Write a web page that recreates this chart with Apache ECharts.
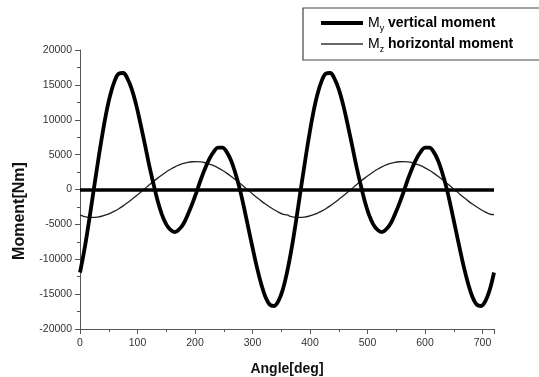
<!DOCTYPE html>
<html>
<head>
<meta charset="utf-8">
<script src="https://cdn.jsdelivr.net/npm/echarts@6/dist/echarts.min.js"></script>
<style>
html,body{margin:0;padding:0;background:#fff;}
#chart{width:539px;height:377px;}
</style>
</head>
<body>
<div id="chart"></div>
<script>
// Angle positions (deg)
var angles = [0,7.5,15,22.5,30,37.5,45,52.5,60,67.5,75,82.5,90,97.5,105,112.5,120,127.5,135,142.5,150,157.5,165,172.5,
              180,187.5,195,202.5,210,217.5,225,232.5,240,247.5,255,262.5,270,277.5,285,292.5,300,307.5,315,322.5,330,337.5,345,352.5,
              360,367.5,375,382.5,390,397.5,405,412.5,420,427.5,435,442.5,450,457.5,465,472.5,480,487.5,495,502.5,510,517.5,525,532.5,
              540,547.5,555,562.5,570,577.5,585,592.5,600,607.5,615,622.5,630,637.5,645,652.5,660,667.5,675,682.5,690,697.5,705,712.5,720];
// My vertical moment (Nm)
var myValues = [-11900,-8700,-4900,-800,3300,7200,10700,13500,15500,16600,16700,15900,14400,12200,9500,6600,3600,900,-1600,-3600,-5000,-5800,-6100,-5700,
                -4900,-3600,-2100,-400,1400,3000,4400,5400,6000,6000,5400,4200,2400,200,-2500,-5400,-8300,-11100,-13500,-15400,-16500,-16700,-16000,-14400,
                -11900,-8700,-4900,-800,3300,7200,10700,13500,15500,16600,16700,15900,14400,12200,9500,6600,3600,900,-1600,-3600,-5000,-5800,-6100,-5700,
                -4900,-3600,-2100,-400,1400,3000,4400,5400,6000,6000,5400,4200,2400,200,-2500,-5400,-8300,-11100,-13500,-15400,-16500,-16700,-16000,-14400,-11900];
// Mz horizontal moment (Nm)
var mzValues = [-3650,-3890,-4000,-4000,-3950,-3835,-3650,-3410,-3100,-2750,-2350,-1910,-1430,-930,-420,100,630,1140,1630,2090,2520,2900,3240,3520,
                3730,3890,3980,4000,3950,3835,3650,3410,3110,2750,2350,1910,1430,930,420,-100,-630,-1140,-1630,-2090,-2520,-2900,-3240,-3520,
                -3650,-3890,-4000,-4000,-3950,-3835,-3650,-3410,-3100,-2750,-2350,-1910,-1430,-930,-420,100,630,1140,1630,2090,2520,2900,3240,3520,
                3730,3890,3980,4000,3950,3835,3650,3410,3110,2750,2350,1910,1430,930,420,-100,-630,-1140,-1630,-2090,-2520,-2900,-3240,-3520,-3600];
var zeroLevel = 0;
var seriesNames = ['My vertical moment', 'Mz horizontal moment'];
var xMin = 0, xMax = 720, xInterval = 100;
var yMin = -20000, yMax = 20000, yInterval = 5000;

function pairs(xs, ys){ return xs.map(function(x,i){ return [x, ys[i]]; }); }

var chart = echarts.init(document.getElementById('chart'), null, {renderer:'canvas'});
var FONT = 'Arial, "Liberation Sans", Helvetica, sans-serif';
var axisColor = '#555';

chart.setOption({
  animation: false,
  backgroundColor: '#fff',
  grid: { left: 80, right: 45, top: 50, bottom: 48, outerBoundsMode: 'none', containLabel: false },
  legend: {
    orient: 'vertical',
    left: 303, top: 8,
    padding: [8, 60, 6, 18],
    borderColor: '#444', borderWidth: 1.2,
    itemWidth: 42, itemHeight: 14, itemGap: 4,
    symbolKeepAspect: true,
    data: [
      { name: seriesNames[0], icon: 'path://M0 0H42V3.8H0Z', itemStyle: { color: '#000', borderWidth: 0, borderColor: 'transparent' } },
      { name: seriesNames[1], icon: 'path://M0 0H42V1.3H0Z', itemStyle: { color: '#333', borderWidth: 0, borderColor: 'transparent' } }
    ],
    formatter: function(name){
      if (name === seriesNames[0]) return '{m|M}{s|y}{b| vertical moment}';
      return '{m|M}{s|z}{b| horizontal moment}';
    },
    textStyle: {
      color: '#000', fontFamily: FONT,
      rich: {
        m: { fontSize: 14, fontWeight: 'normal', lineHeight: 20, verticalAlign: 'middle', fontFamily: FONT, color:'#000' },
        s: { fontSize: 9, fontWeight: 'normal', lineHeight: 20, verticalAlign: 'bottom', fontFamily: FONT, color:'#000' },
        b: { fontSize: 14, fontWeight: 'bold', lineHeight: 20, verticalAlign: 'middle', fontFamily: FONT, color:'#000' }
      }
    }
  },
  xAxis: {
    type: 'value', min: xMin, max: xMax, interval: xInterval,
    name: 'Angle[deg]', nameLocation: 'middle', nameGap: 33,
    nameTextStyle: { fontFamily: FONT, fontWeight: 'bold', fontSize: 14, color: '#111' },
    axisLine: { onZero: false, lineStyle: { color: axisColor, width: 1 } },
    axisTick: { length: 5, lineStyle: { color: axisColor } },
    minorTick: { show: true, splitNumber: 2, length: 3, lineStyle: { color: axisColor } },
    axisLabel: { fontFamily: FONT, fontSize: 10.5, color: '#333', margin: 9, formatter: function(v){ return String(v); } },
    splitLine: { show: false }
  },
  yAxis: {
    type: 'value', min: yMin, max: yMax, interval: yInterval,
    axisLine: { show: true, onZero: false, lineStyle: { color: axisColor, width: 1 } },
    axisTick: { show: true, length: 5, lineStyle: { color: axisColor } },
    minorTick: { show: true, splitNumber: 2, length: 3, lineStyle: { color: axisColor } },
    axisLabel: { fontFamily: FONT, fontSize: 10.5, color: '#333', margin: 8, formatter: function(v){ return String(v); } },
    splitLine: { show: false }
  },
  graphic: [{
    type: 'text', x: 20, y: 211, rotation: Math.PI / 2,
    style: { text: 'Moment[Nm]', font: 'bold 16px ' + FONT, fill: '#111', textAlign: 'center', textVerticalAlign: 'middle' }
  }],
  series: [
    {
      name: seriesNames[1], type: 'line', symbol: 'none', smooth: 0.4,
      data: pairs(angles, mzValues),
      lineStyle: { color: '#222', width: 1.3 }, itemStyle: { color: '#333' },
      z: 2
    },
    {
      name: seriesNames[0], type: 'line', symbol: 'none', smooth: 0.4,
      data: pairs(angles, myValues),
      lineStyle: { color: '#000', width: 3.8 }, itemStyle: { color: '#000' },
      z: 3,
      markLine: {
        silent: true, symbol: ['none', 'none'], label: { show: false },
        lineStyle: { color: '#000', width: 3.5, type: 'solid' },
        data: [{ yAxis: zeroLevel }]
      }
    }
  ]
});
</script>
</body>
</html>
